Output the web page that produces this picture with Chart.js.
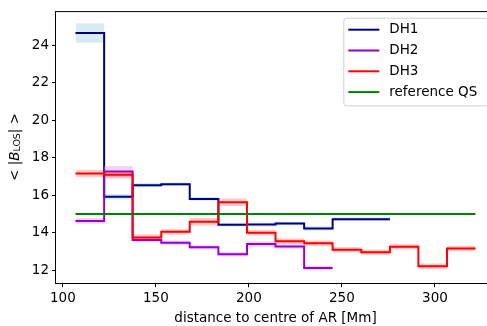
<!DOCTYPE html>
<html>
<head>
<meta charset="utf-8">
<script src="https://cdn.jsdelivr.net/npm/chart.js@4.4.1/dist/chart.umd.min.js"></script>
<style>
  html, body { margin: 0; padding: 0; background: #fff; overflow: hidden; }
  #wrap { width: 500px; height: 326px; }
</style>
</head>
<body>
<div id="wrap"><canvas id="chart" width="500" height="326"></canvas></div>
<script>
// bin edges along distance to AR centre [Mm]
const binEdges = [106.8, 122.2, 137.5, 152.9, 168.2, 183.6, 199.0, 214.3, 229.7, 245.0, 260.4, 275.8, 291.1, 306.5, 321.8];

// mean |B_LOS| per bin and band half-widths
const dh1 = [24.65, 15.92, 16.53, 16.58, 15.80, 14.43, 14.44, 14.49, 14.23, 14.72, 14.72];
const dh1Err = [0.52, 0.15, 0.12, 0.10, 0.10, 0.10, 0.10, 0.10, 0.12, 0.10, 0.10];
const dh2 = [14.63, 17.26, 13.61, 13.46, 13.22, 12.85, 13.40, 13.27, 12.12];
const dh2Err = [0.15, 0.30, 0.12, 0.12, 0.12, 0.12, 0.15, 0.12, 0.12];
const dh3 = [17.16, 17.09, 13.75, 14.05, 14.58, 15.63, 14.00, 13.55, 13.44, 13.09, 12.96, 13.25, 12.21, 13.16];
const dh3Err = [0.20, 0.20, 0.15, 0.15, 0.20, 0.20, 0.15, 0.15, 0.15, 0.15, 0.15, 0.15, 0.15, 0.15];
const refQS = 15.0;

const xTicks = [100, 150, 200, 250, 300];
const yTicks = [12, 14, 16, 18, 20, 22, 24];

const FONT = "'DejaVu Sans', sans-serif";

// step points: each bin value held from its left edge to the next edge
function stepPoints(vals, shift) {
    let pts = [];
    for (let i = 0; i < vals.length; i++) pts.push({ x: binEdges[i], y: vals[i] + (shift ? shift[i] : 0) });
    pts.push({ x: binEdges[vals.length], y: vals[vals.length - 1] + (shift ? shift[vals.length - 1] : 0) });
    return pts;
}
function neg(arr) { return arr.map(v => -v); }

function seriesSets(label, vals, err, color, band, order) {
    return [
        { label: '', data: stepPoints(vals, neg(err)), stepped: true, borderWidth: 0, pointRadius: 0, fill: false, order: order + 1 },
        { label: '', data: stepPoints(vals, err), stepped: true, borderWidth: 0, pointRadius: 0, fill: '-1', backgroundColor: band, order: order + 1 },
        { label, data: stepPoints(vals), stepped: true, borderColor: color, borderWidth: 2, pointRadius: 0, fill: false, order }
    ];
}

const datasets = [
    ...seriesSets('DH1', dh1, dh1Err, '#000080', 'rgba(173, 216, 230, 0.5)', 5),
    ...seriesSets('DH2', dh2, dh2Err, '#9400d3', 'rgba(221, 160, 221, 0.45)', 3),
    ...seriesSets('DH3', dh3, dh3Err, '#ff0000', 'rgba(255, 0, 0, 0.2)', 1),
    { label: 'reference QS', data: [{ x: binEdges[0], y: refQS }, { x: binEdges[binEdges.length - 1], y: refQS }],
      borderColor: '#008000', borderWidth: 2, pointRadius: 0, fill: false, order: 0 }
];

// top spine, y label with subscript, legend box
const decor = {
    id: 'decor',
    afterDraw(chart) {
        const ctx = chart.ctx;
        const a = chart.chartArea;
        ctx.save();
        ctx.strokeStyle = '#000';
        ctx.lineWidth = 1;
        ctx.beginPath();
        ctx.moveTo(a.left, a.top + 0.5);
        ctx.lineTo(a.right, a.top + 0.5);
        ctx.stroke();

        // y label: < |B_LOS| >
        const size = 13.5;
        const parts = [
            { t: '<', f: size + 'px ' + FONT, dy: 0 },
            { t: ' ', f: size + 'px ' + FONT, dy: 0 },
            { t: '|', f: size + 'px ' + FONT, dy: 0 },
            { t: 'B', f: 'italic ' + size + 'px ' + FONT, dy: 0 },
            { t: 'LOS', f: (size * 0.7) + 'px ' + FONT, dy: 2.5 },
            { t: '|', f: size + 'px ' + FONT, dy: 0 },
            { t: ' ', f: size + 'px ' + FONT, dy: 0 },
            { t: '>', f: size + 'px ' + FONT, dy: 0 }
        ];
        let total = 0;
        parts.forEach(p => { ctx.font = p.f; p.w = ctx.measureText(p.t).width; total += p.w; });
        ctx.translate(15, 147);
        ctx.rotate(-Math.PI / 2);
        ctx.fillStyle = '#000';
        ctx.textBaseline = 'middle';
        ctx.textAlign = 'left';
        let x = -total / 2;
        parts.forEach(p => { ctx.font = p.f; ctx.fillText(p.t, x, p.dy); x += p.w; });
        ctx.restore();

        // legend
        ctx.save();
        const items = chart.data.datasets.filter(d => d.label);
        const bx = 343.3, by = a.top + 6.6, bw = a.right - 7 - bx, bh = 87.7;
        ctx.beginPath();
        ctx.roundRect(bx + 0.5, by + 0.5, bw, bh, 3);
        ctx.fillStyle = 'rgba(255,255,255,0.8)';
        ctx.fill();
        ctx.strokeStyle = '#d0d0d0';
        ctx.lineWidth = 1;
        ctx.stroke();
        ctx.font = size + 'px ' + FONT;
        ctx.textBaseline = 'middle';
        items.forEach((d, i) => {
            const cy = by + 12 + i * 20.8;
            ctx.strokeStyle = d.borderColor;
            ctx.lineWidth = 2;
            ctx.beginPath();
            ctx.moveTo(bx + 5, cy);
            ctx.lineTo(bx + 36, cy);
            ctx.stroke();
            ctx.fillStyle = '#000';
            ctx.fillText(d.label, bx + 46, cy);
        });
        ctx.restore();
    }
};

new Chart(document.getElementById('chart'), {
    type: 'line',
    data: { datasets },
    options: {
        responsive: false,
        animation: false,
        events: [],
        layout: { padding: { left: 0, top: 7.4, right: 4.5, bottom: 0 } },
        plugins: { legend: { display: false }, tooltip: { enabled: false } },
        scales: {
            x: {
                type: 'linear', min: 96.05, max: 332.55,
                afterBuildTicks: s => { s.ticks = xTicks.map(v => ({ value: v })); },
                afterFit: s => { s.height = 42.3; },
                grid: { drawOnChartArea: false, drawTicks: true, tickLength: 3.5, color: '#000', lineWidth: 1 },
                border: { display: true, color: '#000', width: 1 },
                ticks: { color: '#000', font: { family: FONT, size: 13.5 }, padding: 3, maxRotation: 0 },
                title: { display: true, text: 'distance to centre of AR [Mm]', color: '#000', font: { family: FONT, size: 13.5 }, padding: { top: 0, bottom: -1 } }
            },
            y: {
                type: 'linear', min: 11.28, max: 25.82,
                afterBuildTicks: s => { s.ticks = yTicks.map(v => ({ value: v })); },
                afterFit: s => { s.width = 55.5; },
                grid: { drawOnChartArea: false, drawTicks: true, tickLength: 3.5, color: '#000', lineWidth: 1 },
                border: { display: true, color: '#000', width: 1 },
                ticks: { color: '#000', font: { family: FONT, size: 13.5 }, padding: 3 }
            }
        }
    },
    plugins: [decor]
});
</script>
</body>
</html>
